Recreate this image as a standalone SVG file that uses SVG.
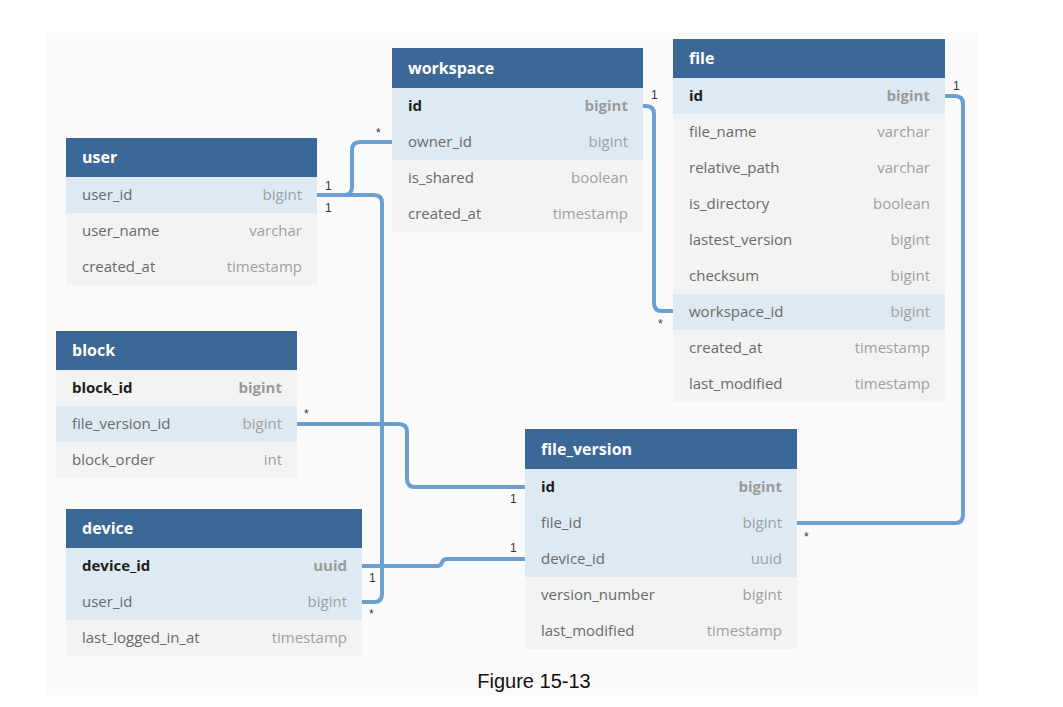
<svg xmlns="http://www.w3.org/2000/svg" width="1063" height="707" viewBox="0 0 1063 707">
<style>
.bg{fill:#fafafa}
.hd{fill:#3b6896}
.ht{font-family:"Open Sans","Noto Sans",sans-serif;font-size:16px;font-weight:bold;fill:#ffffff}
.rw{fill:#f3f3f3}
.hl{fill:#deeaf3}
.fn{font-family:"Open Sans","Noto Sans",sans-serif;font-size:15px;fill:#6a6a6a}
.ft{font-family:"Open Sans","Noto Sans",sans-serif;font-size:15px;fill:#a0a0a0;text-anchor:end}
.pk{font-weight:bold;fill:#1e1e1e}
.pt{font-weight:bold;fill:#9a9a9a}
.cn{fill:none;stroke:#6b9fd0;stroke-width:4;stroke-linejoin:round}
.lb{font-family:"Liberation Sans",Arial,sans-serif;font-size:12px;fill:#333}
.cap{font-family:"Liberation Sans",Arial,sans-serif;font-size:20px;fill:#111;text-anchor:middle}
</style>
<rect x="0" y="0" width="1063" height="707" fill="#ffffff"/>
<rect class="bg" x="45" y="33" width="933" height="662"/>

<g id="connectors">
<path class="cn" d="M317,195 H344 Q352,195 352,187 V150 Q352,142 360,142 H392"/>
<path class="cn" d="M317,195 H374 Q382,195 382,203 V594 Q382,602 374,602 H362"/>
<path class="cn" d="M643,106 H646 Q654,106 654,114 V303 Q654,311 662,311 H673"/>
<path class="cn" d="M945,96 H955 Q963,96 963,104 V515 Q963,523 955,523 H797"/>
<path class="cn" d="M297,424 H399 Q407,424 407,432 V479 Q407,487 415,487 H525"/>
<path class="cn" d="M362,566 H437 Q441,566 442,562.5 Q443,559 447,559 H525"/>
<text class="lb" x="325" y="190">1</text>
<text class="lb" x="325" y="212">1</text>
<text class="lb" x="376" y="137">*</text>
<text class="lb" x="651" y="99">1</text>
<text class="lb" x="658" y="328">*</text>
<text class="lb" x="953" y="90">1</text>
<text class="lb" x="804" y="541">*</text>
<text class="lb" x="510" y="503">1</text>
<text class="lb" x="510" y="552">1</text>
<text class="lb" x="304" y="418">*</text>
<text class="lb" x="369" y="582">1</text>
<text class="lb" x="369" y="618">*</text>
</g>

<g id="user">
<rect class="hd" x="66" y="138" width="251" height="39"/>
<text class="ht" x="82" y="163">user</text>
<rect class="hl" x="66" y="177" width="251" height="36"/>
<rect class="rw" x="66" y="213" width="251" height="72"/>
<text class="fn" x="82" y="200">user_id</text><text class="ft" x="302" y="200">bigint</text>
<text class="fn" x="82" y="236">user_name</text><text class="ft" x="302" y="236">varchar</text>
<text class="fn" x="82" y="272">created_at</text><text class="ft" x="302" y="272">timestamp</text>
</g>

<g id="workspace">
<rect class="hd" x="392" y="48" width="251" height="40"/>
<text class="ht" x="408" y="74">workspace</text>
<rect class="hl" x="392" y="88" width="251" height="72"/>
<rect class="rw" x="392" y="160" width="251" height="72"/>
<text class="fn pk" x="408" y="111">id</text><text class="ft pt" x="628" y="111">bigint</text>
<text class="fn" x="408" y="147">owner_id</text><text class="ft" x="628" y="147">bigint</text>
<text class="fn" x="408" y="183">is_shared</text><text class="ft" x="628" y="183">boolean</text>
<text class="fn" x="408" y="219">created_at</text><text class="ft" x="628" y="219">timestamp</text>
</g>

<g id="file">
<rect class="hd" x="673" y="39" width="272" height="39"/>
<text class="ht" x="689" y="64">file</text>
<rect class="hl" x="673" y="78" width="272" height="36"/>
<rect class="rw" x="673" y="114" width="272" height="180"/>
<rect class="hl" x="673" y="294" width="272" height="36"/>
<rect class="rw" x="673" y="330" width="272" height="72"/>
<text class="fn pk" x="689" y="101">id</text><text class="ft pt" x="930" y="101">bigint</text>
<text class="fn" x="689" y="137">file_name</text><text class="ft" x="930" y="137">varchar</text>
<text class="fn" x="689" y="173">relative_path</text><text class="ft" x="930" y="173">varchar</text>
<text class="fn" x="689" y="209">is_directory</text><text class="ft" x="930" y="209">boolean</text>
<text class="fn" x="689" y="245">lastest_version</text><text class="ft" x="930" y="245">bigint</text>
<text class="fn" x="689" y="281">checksum</text><text class="ft" x="930" y="281">bigint</text>
<text class="fn" x="689" y="317">workspace_id</text><text class="ft" x="930" y="317">bigint</text>
<text class="fn" x="689" y="353">created_at</text><text class="ft" x="930" y="353">timestamp</text>
<text class="fn" x="689" y="389">last_modified</text><text class="ft" x="930" y="389">timestamp</text>
</g>

<g id="block">
<rect class="hd" x="56" y="331" width="241" height="39"/>
<text class="ht" x="72" y="356">block</text>
<rect class="rw" x="56" y="370" width="241" height="36"/>
<rect class="hl" x="56" y="406" width="241" height="36"/>
<rect class="rw" x="56" y="442" width="241" height="36"/>
<text class="fn pk" x="72" y="393">block_id</text><text class="ft pt" x="282" y="393">bigint</text>
<text class="fn" x="72" y="429">file_version_id</text><text class="ft" x="282" y="429">bigint</text>
<text class="fn" x="72" y="465">block_order</text><text class="ft" x="282" y="465">int</text>
</g>

<g id="device">
<rect class="hd" x="66" y="509" width="296" height="39"/>
<text class="ht" x="82" y="534">device</text>
<rect class="hl" x="66" y="548" width="296" height="72"/>
<rect class="rw" x="66" y="620" width="296" height="36"/>
<text class="fn pk" x="82" y="571">device_id</text><text class="ft pt" x="347" y="571">uuid</text>
<text class="fn" x="82" y="607">user_id</text><text class="ft" x="347" y="607">bigint</text>
<text class="fn" x="82" y="643">last_logged_in_at</text><text class="ft" x="347" y="643">timestamp</text>
</g>

<g id="file_version">
<rect class="hd" x="525" y="429" width="272" height="40"/>
<text class="ht" x="541" y="455">file_version</text>
<rect class="hl" x="525" y="469" width="272" height="108"/>
<rect class="rw" x="525" y="577" width="272" height="72"/>
<text class="fn pk" x="541" y="492">id</text><text class="ft pt" x="782" y="492">bigint</text>
<text class="fn" x="541" y="528">file_id</text><text class="ft" x="782" y="528">bigint</text>
<text class="fn" x="541" y="564">device_id</text><text class="ft" x="782" y="564">uuid</text>
<text class="fn" x="541" y="600">version_number</text><text class="ft" x="782" y="600">bigint</text>
<text class="fn" x="541" y="636">last_modified</text><text class="ft" x="782" y="636">timestamp</text>
</g>

<text class="cap" x="534" y="688">Figure 15-13</text>
</svg>
